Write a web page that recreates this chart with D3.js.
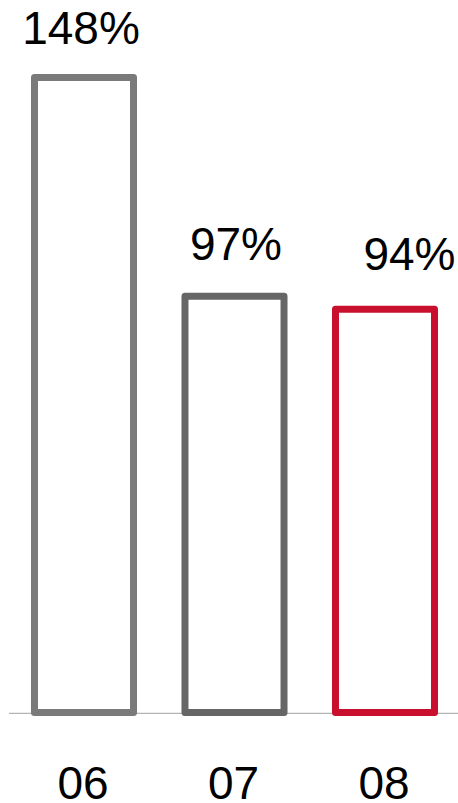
<!DOCTYPE html>
<html>
<head>
<meta charset="utf-8">
<script src="https://cdn.jsdelivr.net/npm/d3@7/dist/d3.min.js"></script>
<style>
html,body{margin:0;padding:0;background:#fff;}
svg{display:block;}
text{font-family:"Liberation Sans",Arial,sans-serif;}
</style>
</head>
<body>
<svg id="chart" width="458" height="803"></svg>
<script>
const categories = ["06", "07", "08"];
const values = [148, 97, 94];
const valueLabels = ["148%", "97%", "94%"];

const colors = ["#7a7a7a", "#666666", "#c8102e"];
const labelDx = [-3, 1.5, 24.5];
const labelGap = [30.5, 33, 35.5];

const W = 458, H = 803;
const baseY = 712.5;
const svg = d3.select("#chart");

const x = d3.scaleBand()
  .domain(categories)
  .range([8.75, 460.25])
  .paddingInner(0.342)
  .paddingOuter(0.171);

const y = d3.scaleLinear()
  .domain([0, 150])
  .range([baseY, baseY - 150 * 4.29]);

// baseline
svg.append("line")
  .attr("x1", 9).attr("x2", W)
  .attr("y1", 713.3).attr("y2", 713.3)
  .attr("stroke", "#a0a0a0").attr("stroke-width", 1);

// bars (outlined)
svg.selectAll("rect.bar")
  .data(values)
  .join("rect")
  .attr("class", "bar")
  .attr("x", (d, i) => x(categories[i]))
  .attr("width", x.bandwidth())
  .attr("y", d => y(d))
  .attr("height", d => y(0) - y(d))
  .attr("fill", "none")
  .attr("stroke", (d, i) => colors[i])
  .attr("stroke-width", 7)
  .attr("stroke-linejoin", "round");

// value labels
svg.selectAll("text.val")
  .data(values)
  .join("text")
  .attr("class", "val")
  .attr("x", (d, i) => x(categories[i]) + x.bandwidth() / 2 + labelDx[i])
  .attr("y", (d, i) => y(d) - 3.5 - labelGap[i])
  .attr("text-anchor", "middle")
  .attr("font-size", 46)
  .attr("fill", "#000")
  .text((d, i) => valueLabels[i]);

// category axis
const axis = d3.axisBottom(x).tickSize(0).tickPadding(0);
const g = svg.append("g")
  .attr("transform", `translate(0,${baseY})`)
  .call(axis);
g.select(".domain").remove();
g.selectAll("text")
  .attr("dy", null)
  .attr("y", 86.8)
  .attr("dx", -1)
  .attr("font-size", 46)
  .attr("font-family", "'Liberation Sans',Arial,sans-serif")
  .attr("fill", "#000");
</script>
</body>
</html>
